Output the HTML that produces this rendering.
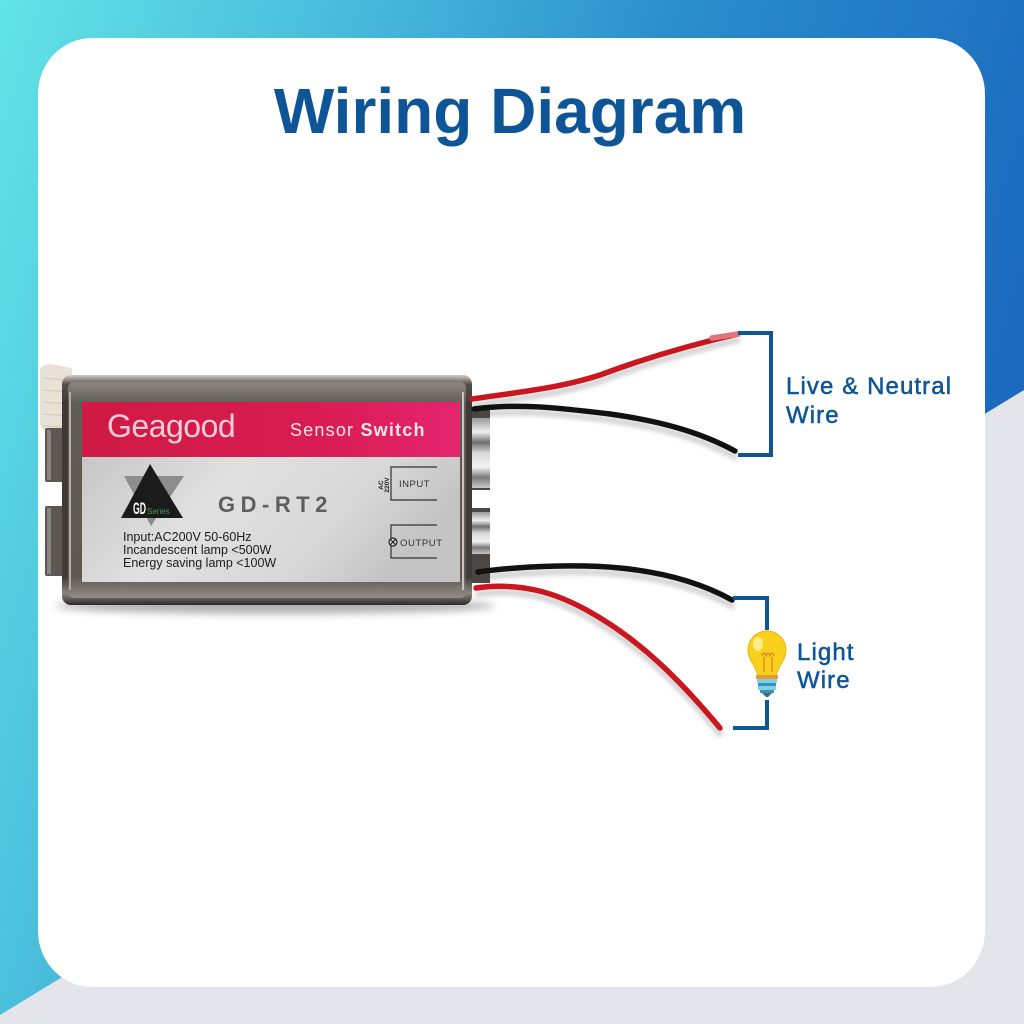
<!DOCTYPE html>
<html>
<head>
<meta charset="utf-8">
<style>
  html,body{margin:0;padding:0;width:1024px;height:1024px;overflow:hidden;background:#e4e5ea;}
  svg{display:block;}
  text{font-family:"Liberation Sans", sans-serif;}
</style>
</head>
<body>
<svg width="1024" height="1024" viewBox="0 0 1024 1024" xmlns="http://www.w3.org/2000/svg">
  <defs>
    <linearGradient id="bg" x1="0" y1="0" x2="1" y2="0.3">
      <stop offset="0" stop-color="#62e4e6"/>
      <stop offset="0.35" stop-color="#45b6da"/>
      <stop offset="0.62" stop-color="#2a8dcb"/>
      <stop offset="1" stop-color="#1b6abf"/>
    </linearGradient>
    <linearGradient id="metalOuter" x1="0" y1="0" x2="0" y2="1">
      <stop offset="0" stop-color="#d2cdc8"/>
      <stop offset="0.04" stop-color="#57514d"/>
      <stop offset="0.12" stop-color="#3e3936"/>
      <stop offset="0.88" stop-color="#403b38"/>
      <stop offset="0.95" stop-color="#8d8782"/>
      <stop offset="1" stop-color="#2b2826"/>
    </linearGradient>
    <linearGradient id="metalInner" x1="0" y1="0" x2="0" y2="1">
      <stop offset="0" stop-color="#8c8680"/>
      <stop offset="0.1" stop-color="#625c57"/>
      <stop offset="0.9" stop-color="#5e5853"/>
      <stop offset="1" stop-color="#948e89"/>
    </linearGradient>
    <linearGradient id="red" x1="0" y1="0" x2="1" y2="0">
      <stop offset="0" stop-color="#cf1a44"/>
      <stop offset="0.6" stop-color="#d81c52"/>
      <stop offset="1" stop-color="#e4246e"/>
    </linearGradient>
    <linearGradient id="silver" x1="0" y1="0" x2="1" y2="0.3">
      <stop offset="0" stop-color="#c6c6c6"/>
      <stop offset="0.4" stop-color="#e0e0e0"/>
      <stop offset="0.75" stop-color="#d8d8d8"/>
      <stop offset="1" stop-color="#c4c4c4"/>
    </linearGradient>
    <linearGradient id="chrome" x1="0" y1="0" x2="0" y2="1">
      <stop offset="0" stop-color="#9a9a9a"/>
      <stop offset="0.2" stop-color="#eeeeee"/>
      <stop offset="0.35" stop-color="#6e6e6e"/>
      <stop offset="0.5" stop-color="#d8d8d8"/>
      <stop offset="0.7" stop-color="#f2f2f2"/>
      <stop offset="0.85" stop-color="#7a7a7a"/>
      <stop offset="1" stop-color="#c8c8c8"/>
    </linearGradient>
    <filter id="blur4" x="-20%" y="-50%" width="140%" height="200%">
      <feGaussianBlur stdDeviation="4"/>
    </filter>
    <filter id="blur2" x="-20%" y="-50%" width="140%" height="200%">
      <feGaussianBlur stdDeviation="2.5"/>
    </filter>
  </defs>

  <!-- background -->
  <rect x="0" y="0" width="1024" height="1024" fill="#e4e5ea"/>
  <polygon points="0,0 1024,0 1024,390 0,1015" fill="url(#bg)"/>

  <!-- card -->
  <rect x="38" y="38" width="947" height="949" rx="54" ry="56" fill="#ffffff"/>

  <!-- title -->
  <text x="510" y="133" text-anchor="middle" font-size="64" font-weight="bold" fill="#0d5596">Wiring Diagram</text>

  <!-- casing shadow -->
  <ellipse cx="275" cy="606" rx="220" ry="8" fill="#000" opacity="0.3" filter="url(#blur4)"/>

  <!-- wire shadows -->
  <g fill="none" stroke="#000" stroke-width="6" opacity="0.18" filter="url(#blur2)" stroke-linecap="round">
    <path d="M 474 405 C 520 398, 560 394, 600 381 C 640 366, 690 351, 738 340"/>
    <path d="M 476 415 C 520 409, 560 414, 610 420 C 660 427, 700 438, 735 457"/>
    <path d="M 480 578 C 520 572, 580 570, 620 574 C 670 579, 705 591, 732 606"/>
    <path d="M 478 594 C 520 588, 555 598, 590 618 C 640 646, 680 686, 720 734"/>
  </g>

  <!-- sleeve -->
  <path d="M 40 372 Q 40 364 50 364 L 72 368 L 72 434 L 50 432 Q 40 431 40 422 Z" fill="#e8e1d5"/>
  <path d="M 43 378 L 68 380 M 43 390 L 68 392 M 43 402 L 68 404 M 43 414 L 68 416 M 43 426 L 68 427" stroke="#d2c9bb" stroke-width="1"/>

  <!-- left tabs -->
  <rect x="45" y="428" width="22" height="54" rx="2" fill="#5d5753"/>
  <rect x="47" y="430" width="4" height="50" fill="#8a847f"/>
  <rect x="45" y="506" width="22" height="70" rx="2" fill="#5d5753"/>
  <rect x="47" y="508" width="4" height="66" fill="#8a847f"/>

  <!-- right tabs -->
  <rect x="466" y="410" width="24" height="80" fill="#4a4644"/>
  <rect x="468" y="418" width="22" height="70" fill="url(#chrome)"/>
  <rect x="466" y="508" width="24" height="75" fill="#4a4644"/>
  <rect x="468" y="512" width="22" height="42" fill="url(#chrome)"/>

  <!-- casing -->
  <rect x="62" y="375" width="410" height="230" rx="9" fill="url(#metalOuter)"/>
  <rect x="68" y="382" width="398" height="216" rx="6" fill="url(#metalInner)"/>
  <line x1="70" y1="392" x2="70" y2="590" stroke="#b2aca6" stroke-width="2"/>
  <line x1="463" y1="392" x2="463" y2="590" stroke="#c9c4bf" stroke-width="2"/>

  <!-- label -->
  <rect x="82" y="402" width="378" height="56" fill="url(#red)"/>
  <rect x="82" y="457" width="378" height="125" fill="url(#silver)"/>

  <text x="107" y="437" font-size="32" fill="#f2cdd5" letter-spacing="-0.5">Geagood</text>
  <text x="290" y="436" font-size="18" fill="#f7e6ea" letter-spacing="1.2">Sensor <tspan font-weight="bold">Switch</tspan></text>

  <!-- GD logo -->
  <polygon points="124,476 184,476 151,526" fill="#8d8d8d"/>
  <polygon points="150,464 121,518 183,518" fill="#1b1b1b"/>
  <text x="133" y="514" font-size="17" font-weight="bold" fill="#ffffff" textLength="13" lengthAdjust="spacingAndGlyphs">GD</text>
  <text x="147" y="514" font-size="8" fill="#3c9a52">Series</text>

  <text x="218" y="512" font-size="22" font-weight="bold" fill="#5e5e5e" letter-spacing="5.5">GD-RT2</text>

  <text x="123" y="541" font-size="12.5" fill="#1c1c1c">Input:AC200V 50-60Hz</text>
  <text x="123" y="554" font-size="12.5" fill="#1c1c1c">Incandescent lamp &lt;500W</text>
  <text x="123" y="567" font-size="12.5" fill="#1c1c1c">Energy saving lamp &lt;100W</text>

  <!-- INPUT / OUTPUT -->
  <text transform="translate(383,485) rotate(-90)" text-anchor="middle" font-size="6.5" font-weight="bold" fill="#222">AC</text>
  <text transform="translate(389,485) rotate(-90)" text-anchor="middle" font-size="6.5" font-weight="bold" fill="#222">220V</text>
  <path d="M 437 467 H 391 V 500 H 437" fill="none" stroke="#333" stroke-width="1.2"/>
  <text x="399" y="487" font-size="9.5" fill="#333" letter-spacing="0.5">INPUT</text>
  <path d="M 437 525 H 391 V 558 H 437" fill="none" stroke="#333" stroke-width="1.2"/>
  <circle cx="393" cy="542" r="4" fill="#d8d8d8" stroke="#222" stroke-width="1.2"/>
  <path d="M 390.2 539.2 L 395.8 544.8 M 395.8 539.2 L 390.2 544.8" stroke="#222" stroke-width="1.1"/>
  <text x="400" y="546" font-size="9.5" fill="#333" letter-spacing="0.6">OUTPUT</text>

  <!-- wires -->
  <g fill="none" stroke-width="5.5" stroke-linecap="round">
    <path d="M 472 399 C 520 392, 560 388, 600 375 C 640 360, 690 345, 738 334" stroke="#c9161f"/>
    <path d="M 712 338 L 738 334" stroke="#e2727c"/>
    <path d="M 474 409 C 520 403, 560 408, 610 414 C 660 421, 700 432, 735 451" stroke="#111111"/>
    <path d="M 478 572 C 520 566, 580 564, 620 568 C 670 573, 705 585, 732 600" stroke="#111111"/>
    <path d="M 476 588 C 520 582, 555 592, 590 612 C 640 640, 680 680, 720 728" stroke="#c9161f"/>
  </g>

  <!-- brackets -->
  <path d="M 738 333 H 771 V 455 H 738" fill="none" stroke="#0d5596" stroke-width="4"/>
  <path d="M 733 598 H 767 V 728 H 733" fill="none" stroke="#0d5596" stroke-width="4"/>

  <!-- bulb -->
  <g>
    <rect x="756" y="630" width="22" height="70" fill="#ffffff"/>
    <path d="M 748 650 A 19 19 0 1 1 786 650 C 786 660, 778 666, 776 676 L 758 676 C 756 666, 748 660, 748 650 Z" fill="#f9d11c" stroke="#eab40f" stroke-width="1"/>
    <ellipse cx="758" cy="644" rx="5" ry="7" fill="#fff1a0" opacity="0.85"/>
    <path d="M 762 656 q 2 -6 4 0 q 2 -6 4 0 q 2 -6 4 0 M 764 657 L 764 672 M 772 657 L 772 672" fill="none" stroke="#d9822a" stroke-width="1.2"/>
    <rect x="756" y="675" width="22" height="4" fill="#e89a34"/>
    <rect x="757" y="679" width="20" height="4" fill="#7fd0e2"/>
    <rect x="758" y="683" width="18" height="3" fill="#3a8fb3"/>
    <rect x="758" y="686" width="18" height="4" fill="#7fd0e2"/>
    <rect x="760" y="690" width="14" height="3" fill="#3a8fb3"/>
    <path d="M 762 693 L 772 693 L 768 697 L 766 697 Z" fill="#2e6f8f"/>
  </g>

  <!-- labels -->
  <g fill="#0d5596" stroke="#0d5596" stroke-width="0.5" font-size="24" letter-spacing="1.1">
    <text x="786" y="394">Live &amp; Neutral</text>
    <text x="786" y="423">Wire</text>
    <text x="797" y="660">Light</text>
    <text x="797" y="688">Wire</text>
  </g>
</svg>
</body>
</html>
